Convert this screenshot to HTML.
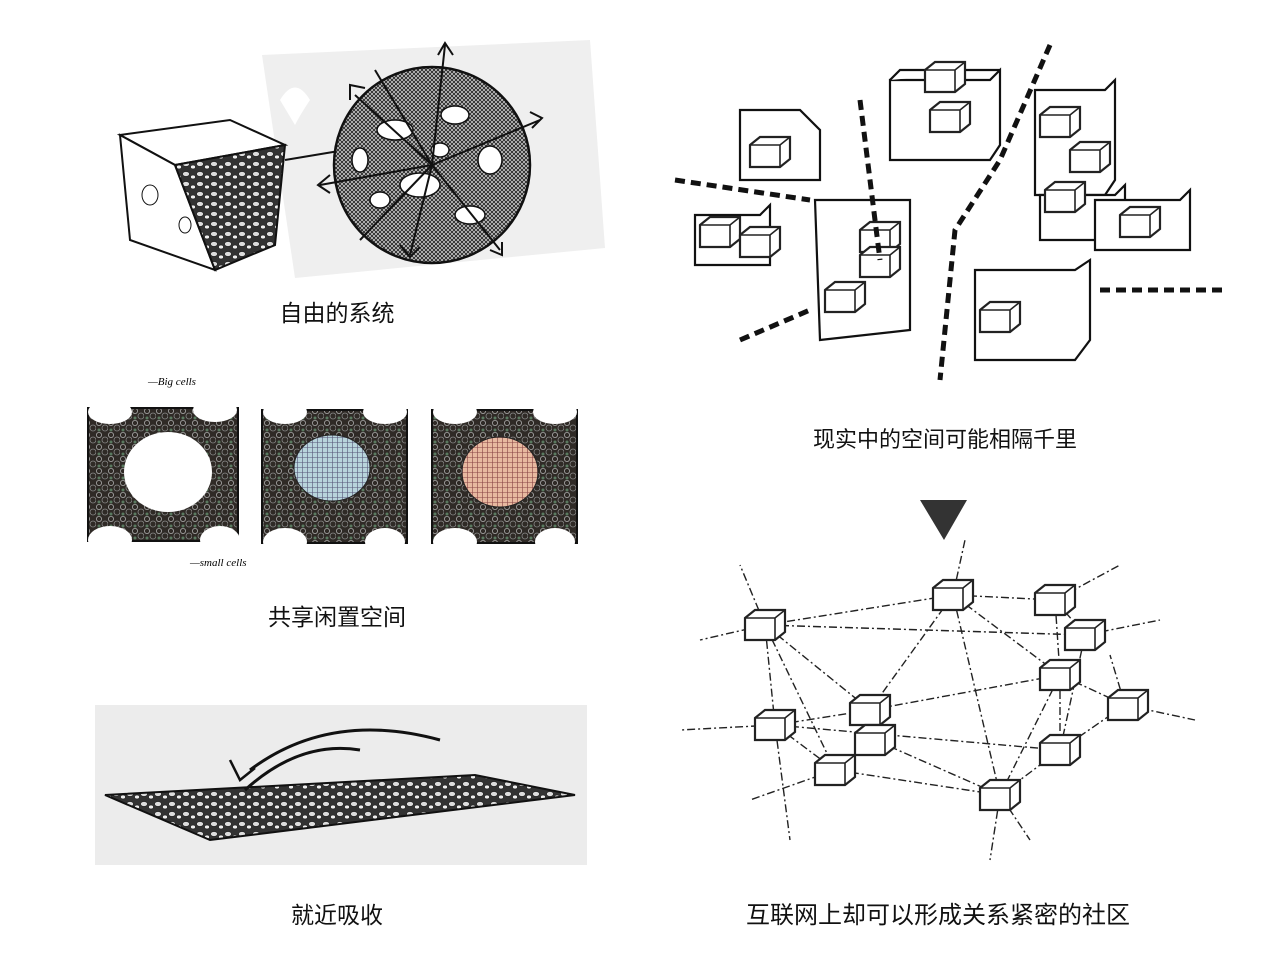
<!DOCTYPE html>
<html><head><meta charset="utf-8"><style>
body{margin:0;background:#fff;width:1266px;height:967px;overflow:hidden}
svg{position:absolute;left:0;top:0}
.t{font-family:"Liberation Sans","Noto Sans CJK SC",sans-serif;fill:#111}
</style></head><body>
<svg width="1266" height="967" viewBox="0 0 1266 967">
<defs>
<pattern id="peb" width="12" height="12" patternUnits="userSpaceOnUse">
<rect width="12" height="12" fill="#2f2a26"/>
<circle cx="3" cy="3" r="2.6" fill="none" stroke="#aaa" stroke-width="0.8"/>
<circle cx="9" cy="8" r="3" fill="none" stroke="#888" stroke-width="0.8"/>
<circle cx="3" cy="10" r="1.5" fill="#5a7a60"/>
</pattern>
<pattern id="peb2" width="14" height="10" patternUnits="userSpaceOnUse">
<rect width="14" height="10" fill="#333"/>
<ellipse cx="4" cy="4" rx="3.5" ry="2.5" fill="#ddd" stroke="#222" stroke-width="0.7"/>
<ellipse cx="11" cy="7" rx="2.5" ry="2" fill="#eee" stroke="#222" stroke-width="0.7"/>
</pattern>
<pattern id="hatch" width="4" height="4" patternUnits="userSpaceOnUse">
<rect width="4" height="4" fill="#ccc"/><path d="M0 0L4 4M4 0L0 4" stroke="#222" stroke-width="0.9"/>
</pattern>
<pattern id="hb" width="5" height="5" patternUnits="userSpaceOnUse">
<rect width="5" height="5" fill="#b8d4dc"/><path d="M0 2.5H5M2.5 0V5" stroke="#557" stroke-width="0.6"/>
</pattern>
<pattern id="hr" width="5" height="5" patternUnits="userSpaceOnUse">
<rect width="5" height="5" fill="#e8b9a0"/><path d="M0 2.5H5M2.5 0V5" stroke="#844" stroke-width="0.6"/>
</pattern>
<g id="box"><path d="M-20 -10 L-10 -18 L20 -18 L20 4 L10 12 L-20 12 Z" fill="#fff" stroke="#222" stroke-width="2.2"/><path d="M-20 -10 L10 -10 L20 -18 M10 -10 V12" fill="none" stroke="#222" stroke-width="1.6"/></g>
</defs>

<polygon points="262,55 590,40 605,248 295,278" fill="#efefef"/>
<path d="M280 100 q15 -25 30 0 q-10 15 -15 25 z" fill="#fff"/>
<path d="M120 135 L230 120 L285 145 L175 165 Z" fill="#fff" stroke="#111" stroke-width="2"/>
<path d="M120 135 L175 165 L215 270 L130 240 Z" fill="#fff" stroke="#111" stroke-width="2"/>
<path d="M175 165 L285 145 L275 245 L215 270 Z" fill="url(#peb2)" stroke="#111" stroke-width="2"/>
<ellipse cx="150" cy="195" rx="8" ry="10" fill="none" stroke="#111"/>
<ellipse cx="185" cy="225" rx="6" ry="8" fill="none" stroke="#111"/>
<line x1="285" y1="160" x2="345" y2="150" stroke="#111" stroke-width="2"/>
<circle cx="432" cy="165" r="98" fill="url(#hatch)" stroke="#111" stroke-width="2.5"/>
<g fill="#fff" stroke="#111" stroke-width="1.5">
<ellipse cx="395" cy="130" rx="18" ry="10"/><ellipse cx="455" cy="115" rx="14" ry="9"/><ellipse cx="490" cy="160" rx="12" ry="14"/>
<ellipse cx="420" cy="185" rx="20" ry="12"/><ellipse cx="380" cy="200" rx="10" ry="8"/><ellipse cx="470" cy="215" rx="15" ry="9"/>
<ellipse cx="440" cy="150" rx="9" ry="7"/><ellipse cx="360" cy="160" rx="8" ry="12"/></g>
<g stroke="#111" stroke-width="2" fill="none">
<path d="M432 165 L355 95 M350 100 l0-15 15 3"/><path d="M432 165 L445 45 M438 55 l7-12 8 12"/>
<path d="M432 165 L540 120 M530 112 l12 6-10 10"/><path d="M432 165 L320 185 M330 175 l-12 10 12 8"/>
<path d="M432 165 L410 255 M400 245 l10 12 10-10"/><path d="M432 165 L500 250 M490 250 l12 5 0-13"/>
<path d="M432 165 L360 240"/><path d="M432 165 L375 70"/></g>
<text class="t" x="337" y="321" font-size="23" text-anchor="middle">自由的系统</text>

<text x="148" y="385" font-size="11" font-family="Liberation Serif" font-style="italic">—Big cells</text>
<g stroke="#111" stroke-width="2">
<rect x="88" y="408" width="150" height="133" fill="url(#peb)"/>
<rect x="262" y="410" width="145" height="133" fill="url(#peb)"/>
<rect x="432" y="410" width="145" height="133" fill="url(#peb)"/></g>
<g fill="#fff">
<ellipse cx="168" cy="472" rx="44" ry="40"/>
<ellipse cx="110" cy="412" rx="22" ry="12"/><ellipse cx="215" cy="410" rx="22" ry="12"/>
<ellipse cx="110" cy="540" rx="22" ry="14"/><ellipse cx="220" cy="540" rx="20" ry="14"/>
<ellipse cx="285" cy="412" rx="22" ry="12"/><ellipse cx="385" cy="412" rx="22" ry="12"/>
<ellipse cx="285" cy="542" rx="22" ry="14"/><ellipse cx="385" cy="542" rx="20" ry="14"/>
<ellipse cx="455" cy="412" rx="22" ry="12"/><ellipse cx="555" cy="412" rx="22" ry="12"/>
<ellipse cx="455" cy="542" rx="22" ry="14"/><ellipse cx="555" cy="542" rx="20" ry="14"/></g>
<ellipse cx="332" cy="468" rx="38" ry="33" fill="url(#hb)" stroke="#222"/>
<ellipse cx="500" cy="472" rx="38" ry="35" fill="url(#hr)" stroke="#222"/>
<text x="190" y="566" font-size="11" font-family="Liberation Serif" font-style="italic">—small cells</text>
<text class="t" x="337" y="625" font-size="23" text-anchor="middle">共享闲置空间</text>

<rect x="95" y="705" width="492" height="160" fill="#ececec"/>
<path d="M105 795 L475 775 L575 795 L210 840 Z" fill="url(#peb2)" stroke="#111" stroke-width="2"/>
<path d="M250 770 Q330 710 440 740 M245 790 Q300 740 360 750" fill="none" stroke="#111" stroke-width="3"/>
<path d="M230 760 l10 20 15 -12" fill="none" stroke="#111" stroke-width="2.5"/>
<text class="t" x="337" y="923" font-size="23" text-anchor="middle">就近吸收</text>

<g stroke="#111" stroke-width="2.2" fill="#fff">
<path d="M890 80 L990 80 L1000 70 L1000 145 L990 160 L890 160 Z"/><path d="M890 80 L900 70 L1000 70"/>
<path d="M1035 90 L1105 90 L1115 80 L1115 180 L1105 195 L1035 195 Z"/>
<path d="M1040 195 L1115 195 L1125 185 L1125 240 L1040 240 Z"/>
<path d="M815 200 L910 200 L910 330 L820 340 Z"/>
<path d="M975 270 L1075 270 L1090 260 L1090 340 L1075 360 L975 360 Z"/>
<path d="M695 215 L760 215 L770 205 L770 265 L695 265 Z"/>
<path d="M740 110 L800 110 L820 130 L820 180 L740 180 Z"/>
<path d="M1095 200 L1180 200 L1190 190 L1190 250 L1095 250 Z"/>
</g>
<g><use href="#box" x="950" y="120"/><use href="#box" x="770" y="155"/><use href="#box" x="1060" y="125"/><use href="#box" x="1090" y="160"/><use href="#box" x="1065" y="200"/><use href="#box" x="1140" y="225"/><use href="#box" x="880" y="240"/><use href="#box" x="880" y="265"/><use href="#box" x="845" y="300"/><use href="#box" x="1000" y="320"/><use href="#box" x="720" y="235"/><use href="#box" x="760" y="245"/><use href="#box" x="945" y="80"/></g>
<g stroke="#111" stroke-width="5" stroke-dasharray="10,6" fill="none">
<path d="M860 100 L880 260"/><path d="M675 180 L810 200"/><path d="M740 340 L810 310"/><path d="M1050 45 L1000 160 L955 230 L940 380"/><path d="M1100 290 L1225 290"/></g>
<text class="t" x="945" y="447" font-size="22" text-anchor="middle">现实中的空间可能相隔千里</text>
<polygon points="920,500 967,500 944,540" fill="#333"/>

<g stroke="#222" stroke-width="1.4" stroke-dasharray="8,3,2,3" fill="none">
<path d="M953 595 L765 625 M953 595 L1055 600 M953 595 L870 710 M953 595 L1060 675 M953 595 L1000 795 M953 595 L965 540"/>
<path d="M765 625 L1085 635 M765 625 L870 710 M765 625 L835 770 M765 625 L775 725 M765 625 L740 565 M765 625 L700 640"/>
<path d="M1055 600 L1085 635 M1055 600 L1120 565 M1055 600 L1060 675 M1085 635 L1160 620 M1085 635 L1060 750"/>
<path d="M1060 675 L1125 705 M1060 675 L870 710 M1060 675 L1000 795 M1060 675 L1060 750 M1125 705 L1195 720 M1125 705 L1060 750"/>
<path d="M775 725 L870 710 M775 725 L1060 750 M775 725 L835 770 M775 725 L680 730 M775 725 L790 840"/>
<path d="M875 740 L1000 795 M875 740 L835 770 M835 770 L1000 795 M835 770 L750 800 M1000 795 L1060 750 M1000 795 L1030 840 M1000 795 L990 860 M1125 705 L1110 655"/>
</g>
<g><use href="#box" x="953" y="598"/><use href="#box" x="1055" y="603"/><use href="#box" x="765" y="628"/><use href="#box" x="1085" y="638"/><use href="#box" x="1060" y="678"/><use href="#box" x="1128" y="708"/><use href="#box" x="870" y="713"/><use href="#box" x="775" y="728"/><use href="#box" x="875" y="743"/><use href="#box" x="1060" y="753"/><use href="#box" x="835" y="773"/><use href="#box" x="1000" y="798"/></g>
<text class="t" x="938" y="923" font-size="24" text-anchor="middle">互联网上却可以形成关系紧密的社区</text>
</svg>
</body></html>
